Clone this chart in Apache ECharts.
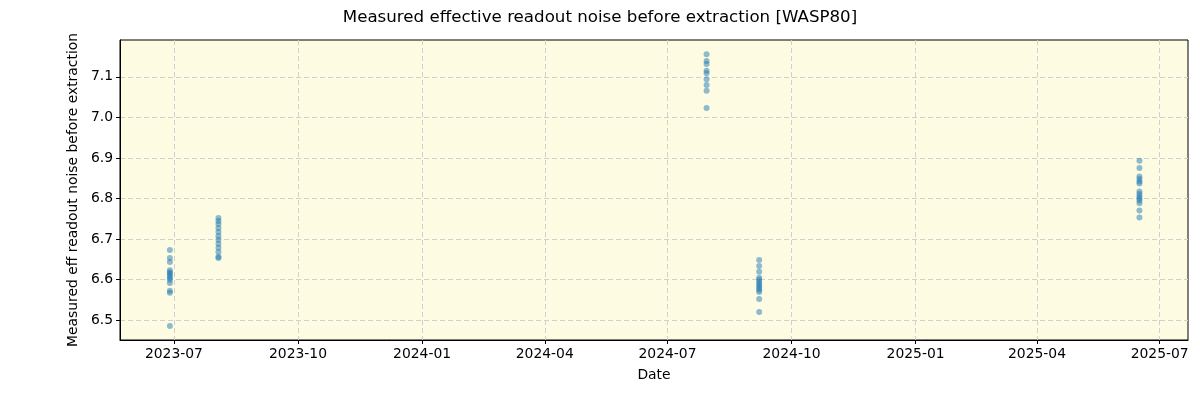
<!DOCTYPE html>
<html><head><meta charset="utf-8">
<script src="https://cdn.jsdelivr.net/npm/echarts@6/dist/echarts.min.js"></script>
<style>html,body{margin:0;padding:0;background:#fff}#c{width:1200px;height:400px}</style>
</head><body><div id="c"></div>
<script>
const title = 'Measured effective readout noise before extraction [WASP80]';
const xName = 'Date';
const yName = 'Measured eff readout noise before extraction';
const dates = ['2023-06-28', '2023-08-03', '2024-07-30', '2024-09-07', '2025-06-16'];
const cluster1 = [6.673, 6.653, 6.643, 6.623, 6.618, 6.614, 6.609, 6.604, 6.599, 6.591, 6.572, 6.567, 6.485];
const cluster2 = [6.752, 6.744, 6.737, 6.727, 6.717, 6.707, 6.698, 6.688, 6.678, 6.668, 6.656, 6.653];
const cluster3 = [7.156, 7.139, 7.132, 7.115, 7.109, 7.094, 7.080, 7.066, 7.023];
const cluster4 = [6.648, 6.633, 6.619, 6.604, 6.599, 6.594, 6.589, 6.584, 6.579, 6.574, 6.569, 6.552, 6.520];
const cluster5 = [6.893, 6.875, 6.854, 6.848, 6.842, 6.837, 6.817, 6.811, 6.805, 6.800, 6.795, 6.788, 6.770, 6.753];
const clusters = [cluster1, cluster2, cluster3, cluster4, cluster5];
const xTicks = ['2023-07-01','2023-10-01','2024-01-01','2024-04-01','2024-07-01','2024-10-01','2025-01-01','2025-04-01','2025-07-01'];
const yTicks = [6.5, 6.6, 6.7, 6.8, 6.9, 7.0, 7.1];
const xMin = '2023-05-22', xMax = '2025-07-22';
const yMin = 6.4506, yMax = 7.191;

const ts = s => new Date(s + 'T00:00:00Z').getTime();
const points = [];
clusters.forEach((c, i) => c.forEach(v => points.push([ts(dates[i]), v])));
const tickTs = xTicks.map(ts);
const fmt = t => { const d = new Date(t); return d.getUTCFullYear() + '-' + String(d.getUTCMonth()+1).padStart(2,'0'); };

const chart = echarts.init(document.getElementById('c'));
const font = 'DejaVu Sans';
chart.setOption({
  animation: false,
  backgroundColor: '#ffffff',
  title: { text: title, left: 'center', top: 4, textStyle: { fontFamily: font, fontSize: 16.67, fontWeight: 'normal', color: '#000' } },
  grid: { left: 120, right: 12, top: 40, bottom: 60, show: true, backgroundColor: '#fdfce2', borderColor: '#000', borderWidth: 1 },
  xAxis: {
    type: 'value', min: ts(xMin), max: ts(xMax),
    name: xName, nameLocation: 'middle', nameGap: 28,
    nameTextStyle: { fontFamily: font, fontSize: 13.9, color: '#000' },
    axisLine: { show: true, lineStyle: { color: '#000' } },
    axisTick: { show: true, customValues: tickTs, length: 4, lineStyle: { color: '#000' } },
    axisLabel: { customValues: tickTs, formatter: v => fmt(v), fontFamily: font, fontSize: 13.9, color: '#000', margin: 7 },
    splitLine: { show: true, customValues: tickTs, lineStyle: { color: '#d0d0d0', type: [5, 3] } }
  },
  yAxis: {
    type: 'value', min: yMin, max: yMax,
    name: yName, nameLocation: 'middle', nameGap: 39,
    nameTextStyle: { fontFamily: font, fontSize: 13.9, color: '#000' },
    axisLine: { show: true, lineStyle: { color: '#000' } },
    axisTick: { show: true, customValues: yTicks, length: 4, lineStyle: { color: '#000' } },
    axisLabel: { customValues: yTicks, formatter: v => v.toFixed(1), fontFamily: font, fontSize: 13.9, color: '#000', margin: 7 },
    splitLine: { show: true, customValues: yTicks, lineStyle: { color: '#d0d0d0', type: [5, 3] } }
  },
  series: [{
    type: 'scatter', data: points, symbolSize: 6,
    itemStyle: { color: 'rgba(31,119,180,0.62)' }
  }]
});
</script></body></html>
